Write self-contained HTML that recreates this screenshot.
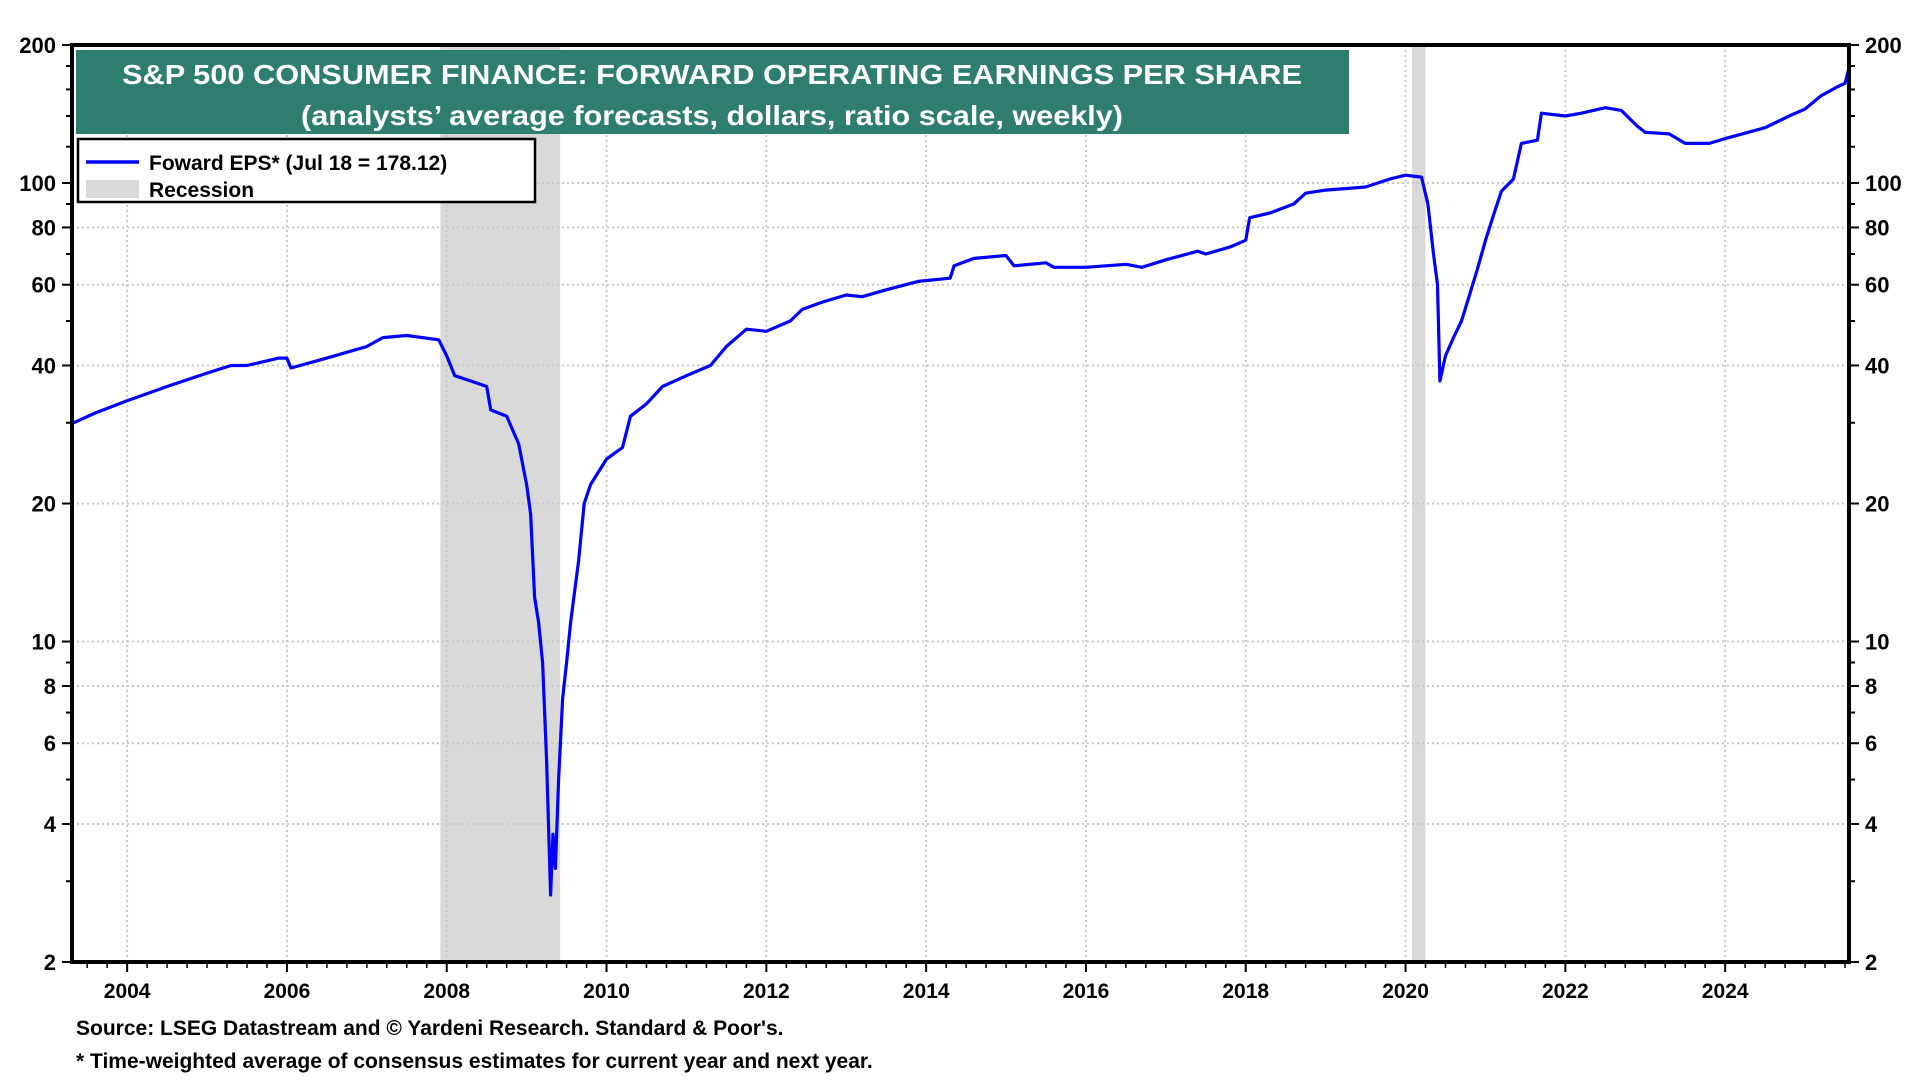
<!DOCTYPE html>
<html><head><meta charset="utf-8"><style>
html,body{margin:0;padding:0;background:#fff;}
svg{display:block;font-family:"Liberation Sans",Arial,sans-serif;font-weight:bold;}
</style></head><body>
<svg id="chart" width="1920" height="1080" viewBox="0 0 1920 1080" xmlns="http://www.w3.org/2000/svg">
<g id="recessions"></g>
<g id="grid"></g>
<g id="series"></g>
<g id="axes"></g>
<g>
<rect x="76" y="50" width="1273" height="84" fill="#2e7d6f"/>
<text x="712" y="84" text-anchor="middle" fill="#fff" font-size="28" textLength="1180" lengthAdjust="spacingAndGlyphs">S&amp;P 500 CONSUMER FINANCE: FORWARD OPERATING EARNINGS PER SHARE</text>
<text x="712" y="125" text-anchor="middle" fill="#fff" font-size="28" textLength="822" lengthAdjust="spacingAndGlyphs">(analysts’ average forecasts, dollars, ratio scale, weekly)</text>
</g>
<g>
<rect x="78" y="139" width="457" height="63" fill="#fff" stroke="#000" stroke-width="2.5"/>
<line x1="86" y1="162" x2="139" y2="162" stroke="#0000ff" stroke-width="3.5"/>
<text x="149" y="170" font-size="21">Foward EPS* (Jul 18 = 178.12)</text>
<rect x="86" y="180" width="53" height="18" fill="#d9d9d9"/>
<text x="149" y="197" font-size="21">Recession</text>
</g>
<text x="76" y="1035" font-size="21">Source: LSEG Datastream and © Yardeni Research. Standard &amp; Poor's.</text>
<text x="76" y="1068" font-size="21">* Time-weighted average of consensus estimates for current year and next year.</text>
</svg>
<script>
const years=[2003.33,2003.6,2004.0,2004.5,2005.0,2005.3,2005.5,2005.9,2006.0,2006.05,2006.5,2007.0,2007.2,2007.5,2007.9,2008.0,2008.1,2008.3,2008.5,2008.55,2008.75,2008.9,2009.0,2009.05,2009.1,2009.15,2009.2,2009.25,2009.3,2009.33,2009.36,2009.4,2009.45,2009.5,2009.55,2009.65,2009.72,2009.8,2010.0,2010.2,2010.3,2010.5,2010.7,2011.0,2011.3,2011.5,2011.75,2012.0,2012.3,2012.45,2012.7,2013.0,2013.2,2013.5,2013.9,2014.3,2014.35,2014.6,2015.0,2015.1,2015.5,2015.6,2016.0,2016.5,2016.7,2017.0,2017.4,2017.5,2017.8,2018.0,2018.05,2018.3,2018.6,2018.75,2019.0,2019.5,2019.8,2020.0,2020.2,2020.28,2020.35,2020.4,2020.43,2020.5,2020.6,2020.7,2020.8,2020.9,2021.0,2021.1,2021.2,2021.35,2021.45,2021.65,2021.7,2022.0,2022.2,2022.5,2022.7,2022.9,2023.0,2023.3,2023.5,2023.8,2024.0,2024.5,2024.8,2025.0,2025.2,2025.4,2025.5,2025.55];
const epsValues=[30,31.5,33.5,36,38.5,40,40,41.5,41.5,39.5,41.5,44,46,46.5,45.5,42,38,37,36,32,31,27,22,19,12.5,11,9,5.5,2.8,3.8,3.2,5,7.5,9,11,15,20,22,25,26.5,31,33,36,38,40,44,48,47.5,50,53,55,57,56.5,58.5,61,62,66,68.5,69.5,66,67,65.5,65.5,66.5,65.5,68,71,70,72.5,75,84,86,90,95,96.5,98,102,104,103,90,70,60,37,42,46,50,57,65,75,85,96,102,122,124,142,140,142,146,144,133,129,128,122,122,125,132,140,145,155,162,165,178];
const recessionStarts=[2007.92,2020.08];
const recessionEnds=[2009.42,2020.25];
const yTickLabels=[2,4,6,8,10,20,40,60,80,100,200];
const yGridValues=[4,6,8,10,20,40,60,80,100];
const yMinorValues=[3,5,7,9,30,50,70,90,120,140,160,180];
const xTickYears=[2004,2006,2008,2010,2012,2014,2016,2018,2020,2022,2024];

const L=72,R=1849,T=45,B=962;
const X0=2003.31,X1=2025.55;
const x=v=>L+(v-X0)/(X1-X0)*(R-L);
const y=v=>B-(Math.log10(v)-Math.log10(2))/2*(B-T);
const NS="http://www.w3.org/2000/svg";
function mk(tag,attrs,parent){const e=document.createElementNS(NS,tag);for(const k in attrs)e.setAttribute(k,attrs[k]);parent.appendChild(e);return e;}

const rec=document.getElementById('recessions');
recessionStarts.forEach((s,i)=>{
 const r=mk('rect',{x:x(s),y:T,width:x(recessionEnds[i])-x(s),height:B-T,fill:'#d9d9d9'},rec);
 
 
});
const grid=document.getElementById('grid');
yGridValues.forEach(v=>{
 const l=mk('line',{x1:L,x2:R,y1:y(v),y2:y(v),stroke:'#c8c8c8','stroke-width':2,'stroke-dasharray':'2,3'},grid);
 
 
});
xTickYears.forEach(v=>{
 const l=mk('line',{x1:x(v),x2:x(v),y1:T,y2:B,stroke:'#c8c8c8','stroke-width':2,'stroke-dasharray':'2,3'},grid);
 
 
});
const ser=document.getElementById('series');
const pts=years.map((yr,i)=>x(yr).toFixed(1)+','+y(epsValues[i]).toFixed(1)).join(' ');
const pl=mk('polyline',{points:pts,fill:'none',stroke:'#0000ff','stroke-width':3.2,'stroke-linejoin':'round'},ser);



const ax=document.getElementById('axes');
const frame=mk('path',{d:`M${L},${T}H${R}V${B}H${L}Z`,fill:'none',stroke:'#000','stroke-width':4},ax);


yTickLabels.forEach(v=>{
 mk('line',{x1:L-10,x2:L,y1:y(v),y2:y(v),stroke:'#000','stroke-width':2},ax);
 mk('line',{x1:R,x2:R+10,y1:y(v),y2:y(v),stroke:'#000','stroke-width':2},ax);
 const t1=mk('text',{x:L-16,y:y(v)+8,'text-anchor':'end','font-size':22},ax);
 t1.textContent=v;
 
 
 const t2=mk('text',{x:R+16,y:y(v)+8,'text-anchor':'start','font-size':22},ax);
 t2.textContent=v;
 
 
});
yMinorValues.forEach(v=>{
 mk('line',{x1:L-6,x2:L,y1:y(v),y2:y(v),stroke:'#000','stroke-width':2},ax);
 mk('line',{x1:R,x2:R+6,y1:y(v),y2:y(v),stroke:'#000','stroke-width':2},ax);
});
for(let q=2003.5;q<X1;q+=0.25){
 mk('line',{x1:x(q),x2:x(q),y1:B,y2:B+6,stroke:'#000','stroke-width':1.5},ax);
}
xTickYears.forEach(v=>{
 mk('line',{x1:x(v),x2:x(v),y1:B,y2:B+10,stroke:'#000','stroke-width':2},ax);
 const t=mk('text',{x:x(v),y:B+36,'text-anchor':'middle','font-size':21},ax);
 t.textContent=v;
 
 
});
</script>
</body></html>
